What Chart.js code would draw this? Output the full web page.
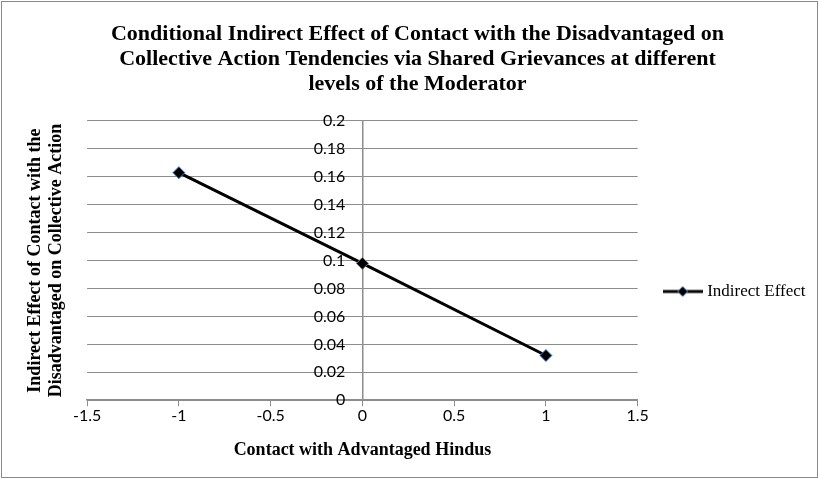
<!DOCTYPE html>
<html>
<head>
<meta charset="utf-8">
<script src="https://cdn.jsdelivr.net/npm/chart.js@4"></script>
<style>
  html, body { margin: 0; padding: 0; background: #fff; }
  canvas { display: block; }
</style>
</head>
<body>
<canvas id="chart" width="819" height="479"></canvas>
<script>
const contactLevels = [-1, 0, 1];
const indirectEffect = [0.163, 0.098, 0.032];
const xTickLabels = ['-1.5', '-1', '-0.5', '0', '0.5', '1', '1.5'];
const yTickLabels = ['0', '0.02', '0.04', '0.06', '0.08', '0.1', '0.12', '0.14', '0.16', '0.18', '0.2'];
const seriesName = 'Indirect Effect';
const chartTitle = [
  'Conditional Indirect Effect of Contact with the Disadvantaged on',
  'Collective Action Tendencies via Shared Grievances at different',
  'levels of the Moderator'
];
const xTitle = 'Contact with Advantaged Hindus';
const yTitle = ['Indirect Effect of Contact with the', 'Disadvantaged on Collective Action'];

const gridGray = '#8d8d8d';
const markerBlue = '#4a7ebb';

// legend icon: line with a diamond in the middle
function legendIcon() {
  const c = document.createElement('canvas');
  c.width = 40; c.height = 14;
  const g = c.getContext('2d');
  g.strokeStyle = '#000';
  g.lineWidth = 3;
  g.beginPath(); g.moveTo(0, 7); g.lineTo(40, 7); g.stroke();
  g.beginPath();
  g.moveTo(20, 2); g.lineTo(25, 7); g.lineTo(20, 12); g.lineTo(15, 7); g.closePath();
  g.fillStyle = '#000'; g.fill();
  g.lineWidth = 1; g.strokeStyle = markerBlue; g.stroke();
  return c;
}
const icon = legendIcon();

const frame = {
  id: 'frame',
  beforeDraw(chart) {
    const ctx = chart.ctx;
    ctx.save();
    ctx.fillStyle = '#fff';
    ctx.fillRect(0, 0, chart.width, chart.height);
    ctx.strokeStyle = '#8a8a8a';
    ctx.lineWidth = 1;
    ctx.strokeRect(1.5, 1.5, chart.width - 3, chart.height - 3);
    ctx.restore();
  }
};

// the centred y axes count as side boxes, which would squeeze the legend; give it room
const wideLegend = {
  id: 'wideLegend',
  beforeLayout(chart) {
    const lg = chart.legend;
    if (lg && !lg._wide) {
      const orig = lg.update.bind(lg);
      lg.update = (w, h, m) => orig(Math.max(w, 200), h, m);
      lg._wide = true;
    }
  }
};

const numLabel = v => String(Number(v.toFixed(2)));

new Chart(document.getElementById('chart'), {
  type: 'scatter',
  data: {
    datasets: [{
      label: seriesName,
      data: contactLevels.map((x, i) => ({ x: x, y: indirectEffect[i] })),
      showLine: true,
      borderColor: '#000',
      borderWidth: 3,
      pointStyle: 'rectRot',
      pointRadius: 6,
      pointBackgroundColor: '#000',
      pointBorderColor: markerBlue,
      pointBorderWidth: 1,
      yAxisID: 'y'
    }]
  },
  options: {
    responsive: false,
    animation: false,
    layout: { padding: { left: 19.5, right: 3.5, top: 0, bottom: 18 } },
    scales: {
      x: {
        type: 'linear',
        position: 'bottom',
        min: -1.5, max: 1.5,
        ticks: {
          stepSize: 0.5, padding: 0, color: '#000',
          font: { family: 'Lato', size: 16 },
          callback: v => xTickLabels.includes(numLabel(v)) ? numLabel(v) : ''
        },
        grid: { drawOnChartArea: false, drawTicks: true, tickLength: 6, color: gridGray },
        border: { color: gridGray, width: 1.5 },
        title: {
          display: true, text: xTitle, color: '#000',
          font: { family: 'Liberation Serif', size: 18, weight: 'bold', lineHeight: 1.2 },
          padding: { top: 14, bottom: 0 }
        }
      },
      y: {
        type: 'linear',
        position: { x: 0 },
        min: 0, max: 0.2,
        ticks: { stepSize: 0.02, display: false },
        grid: { color: gridGray, drawTicks: false },
        border: { color: gridGray, width: 1.5 }
      },
      // tick labels sit a little left of the centred axis line
      yLabels: {
        type: 'linear',
        position: { x: -0.093 },
        min: 0, max: 0.2,
        ticks: {
          stepSize: 0.02, padding: 0, color: '#000',
          font: { family: 'Lato', size: 16 },
          callback: v => yTickLabels.includes(numLabel(v)) ? numLabel(v) : ''
        },
        grid: { display: false, drawTicks: false },
        border: { display: false }
      },
      yTitle: {
        type: 'linear',
        position: 'left',
        min: 0, max: 0.2,
        ticks: { display: false },
        grid: { display: false, drawTicks: false },
        border: { display: false },
        title: {
          display: true, text: yTitle, color: '#000',
          font: { family: 'Liberation Serif', size: 18, weight: 'bold', lineHeight: 1.17 },
          padding: { top: 5, bottom: 20.5 }
        }
      }
    },
    plugins: {
      title: {
        display: true, text: chartTitle, color: '#000',
        font: { family: 'Liberation Serif', size: 22, weight: 'bold', lineHeight: 1.136 },
        padding: { top: 21.5, bottom: 24.5 }
      },
      legend: {
        position: 'right',
        title: { display: true, text: ' ', font: { size: 1, lineHeight: 1 }, padding: { top: 121, bottom: 0 } },
        labels: {
          usePointStyle: true,
          pointStyleWidth: 32,
          padding: 29,
          color: '#000',
          font: { family: 'Liberation Serif', size: 17 },
          generateLabels: chart => Chart.defaults.plugins.legend.labels.generateLabels(chart)
            .map(l => Object.assign(l, { pointStyle: icon, fontColor: '#000' }))
        }
      },
      tooltip: { enabled: false }
    }
  },
  plugins: [frame, wideLegend]
});
</script>
</body>
</html>
